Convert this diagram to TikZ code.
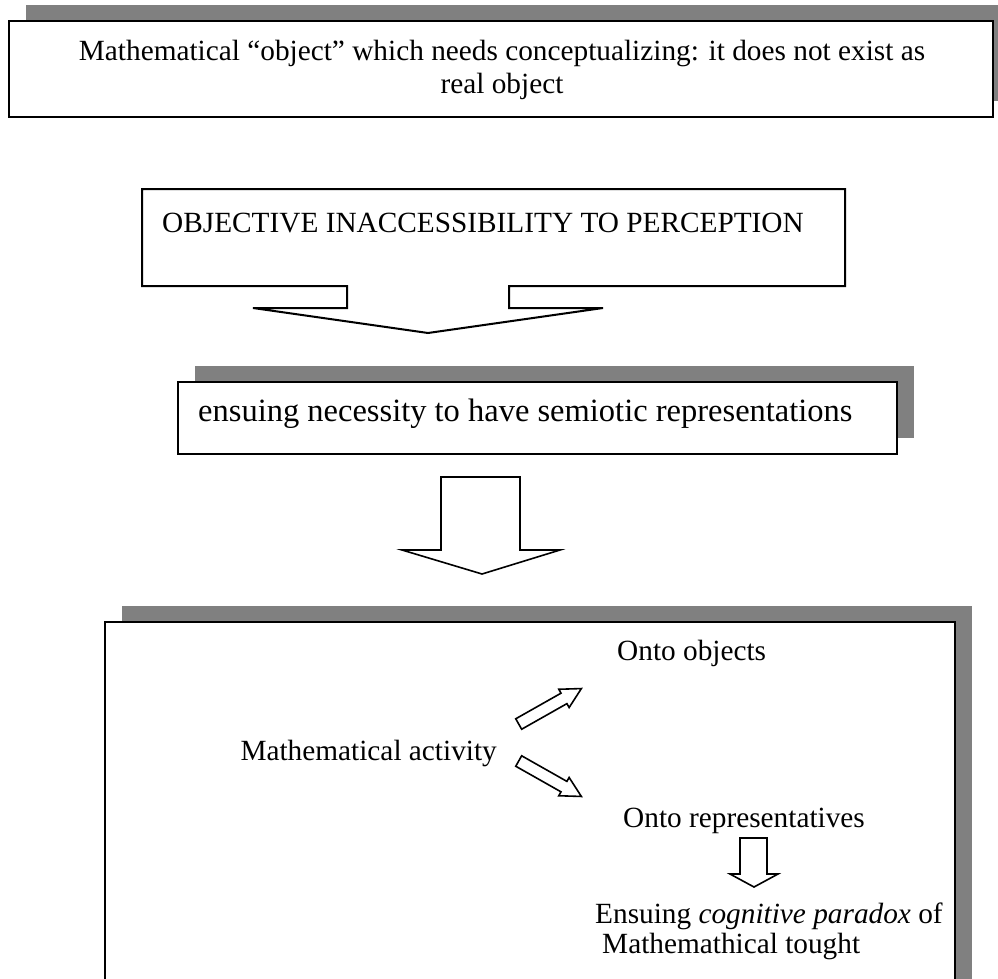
\documentclass[tikz,border=0pt]{standalone}
\usepackage{fontspec}
\setmainfont{Liberation Serif}
\definecolor{shadowc}{RGB}{128,128,128}
\begin{document}
\begin{tikzpicture}[x=1pt,y=-1pt,
  txt/.style={font=\fontsize{29.3}{33}\selectfont, inner sep=0pt},
  bigtxt/.style={font=\fontsize{32.5}{36}\selectfont, inner sep=0pt},
  boxc/.style={draw, line width=2.2pt, fill=white, inner sep=0pt},
  shade/.style={fill=shadowc, draw=none},
  blockarrow/.style={draw, line width=1.6pt, fill=white, line join=miter}]
\useasboundingbox (0,0) rectangle (998,978);
\clip (0,0) rectangle (998,978);

% box 1
\fill[shade] (26,5) rectangle (1010,101);
\node[boxc, minimum width=984pt, minimum height=96pt] (b1) at (501,69) {};
\node[txt, anchor=base, align=center, font=\fontsize{29.3}{33}\selectfont] (t1) at (502,93)
  {Mathematical “object” which needs conceptualizing: it does not exist as\\real object};

% box 2 (callout with arrow)
\coordinate (b2nw) at (142,189);
\draw[blockarrow, line width=2pt] (b2nw) -- (845,189) -- (845,286) -- (509,286) -- (509,308) -- (603,308)
  -- (428,333) -- (253,308) -- (347,308) -- (347,286) -- (142,286) -- cycle;
\node[txt, anchor=base west] (t2) at (162,232) {OBJECTIVE INACCESSIBILITY TO PERCEPTION};

% box 3
\fill[shade] (195,366) rectangle (914,438);
\node[boxc, minimum width=719pt, minimum height=72pt] (b3) at (537.5,418) {};
\node[bigtxt, anchor=base west] (t3) at (198,421) {ensuing necessity to have semiotic representations};

% arrow 2
\draw[blockarrow] (441,477) -- (520,477) -- (520,550) -- (560,550) -- (482,574) -- (402,550) -- (441,550) -- cycle;

% box 4
\fill[shade] (122,606) rectangle (972,1010);
\draw[boxc] (105,622) rectangle (955,1020);
\node[txt, anchor=base west] (obj) at (617,660) {Onto objects};
\node[txt, anchor=base east] (act) at (497,760) {Mathematical activity};
\node[txt, anchor=base west] (rep) at (623,827) {Onto representatives};
\node[txt, anchor=base west, align=left, font=\fontsize{29.3}{30}\selectfont] (par) at (595,953)
  {Ensuing \textit{cognitive paradox} of\\\hspace*{7pt}Mathemathical tought};

% small block arrows
\begin{scope}[shift={(518.7,724)}, rotate=29.5]
\draw[blockarrow] (0,-6) -- (52,-6) -- (52,-10.5) -- (72,0) -- (52,10.5) -- (52,6) -- (0,6) -- cycle;
\end{scope}
\begin{scope}[shift={(518.7,761)}, rotate=-29.5]
\draw[blockarrow] (0,-6) -- (52,-6) -- (52,-10.5) -- (72,0) -- (52,10.5) -- (52,6) -- (0,6) -- cycle;
\end{scope}
\draw[blockarrow] (740,838) -- (767,838) -- (767,874) -- (778,874) -- (754,887) -- (730,874) -- (740,874) -- cycle;
\end{tikzpicture}
\end{document}
